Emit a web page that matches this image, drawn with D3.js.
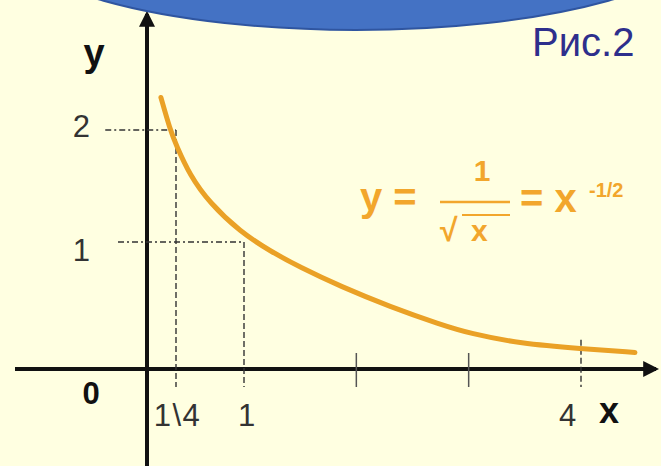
<!DOCTYPE html>
<html>
<head>
<meta charset="UTF-8">
<title>y = x^-1/2</title>
<script src="https://cdn.jsdelivr.net/npm/d3@7/dist/d3.min.js"></script>
<style>
  * { margin: 0; padding: 0; }
  body { background: #ffffe1; }
  #chart { width: 661px; height: 466px; }
  text { font-family: "Liberation Sans", Arial, sans-serif; }
</style>
</head>
<body>
<div id="chart"></div>
<script>
// ticks on the axes
var xTicks = [0.25, 1, 2, 3, 4];
var xTickLabels = ["1\\4", "1", "", "", "4"];
var xDashed = [0.25, 1, 4];
var yTicks = [1, 2];
var yTickLabels = ["1", "2"];

// curve points
var curveX = [0.12, 0.2, 0.25, 0.4, 0.62, 0.96, 1.23, 1.5, 1.86, 2.3, 2.75, 3.01, 3.46, 4.0, 4.48];
var curveY = [2.29, 2.0, 1.87, 1.6, 1.35, 1.09, 0.93, 0.8, 0.65, 0.49, 0.35, 0.28, 0.2, 0.16, 0.13];

// helper guide lines: [x, y, start of the horizontal part]
var guideX = [0.25, 1];
var guideY = [2, 1];
var guideStart = [-0.36, -0.25];
var guide4Top = 0.23;

var W = 661, H = 466;
var svg = d3.select("#chart").append("svg")
    .attr("width", W)
    .attr("height", H);

svg.append("rect").attr("width", W).attr("height", H).attr("fill", "#ffffe1");

// the picture is hand-drawn, so the units are not even
var x = d3.scaleLinear().domain([0, 0.25, 1, 4]).range([147, 176, 244, 581]);
var y = d3.scaleLinear().domain([0, 1, 2]).range([369, 242, 130]);

var ink = "#111";

// axes with arrows
svg.append("defs").append("marker")
    .attr("id", "arr")
    .attr("viewBox", "0 0 10 10")
    .attr("refX", 8).attr("refY", 5)
    .attr("markerWidth", 4).attr("markerHeight", 4)
    .attr("orient", "auto")
  .append("path")
    .attr("d", "M0,0L10,5L0,10z")
    .attr("fill", ink);

svg.append("line")
    .attr("x1", 15).attr("y1", y(0))
    .attr("x2", 656).attr("y2", y(0))
    .attr("stroke", ink).attr("stroke-width", 4)
    .attr("marker-end", "url(#arr)");

svg.append("line")
    .attr("x1", x(0)).attr("y1", H)
    .attr("x2", x(0)).attr("y2", 14)
    .attr("stroke", ink).attr("stroke-width", 4)
    .attr("marker-end", "url(#arr)");

// plain ticks
svg.selectAll(".tick2")
    .data(xTicks.filter(function(d){ return xDashed.indexOf(d) < 0; }))
    .enter().append("line")
    .attr("class", "tick2")
    .attr("x1", function(d){ return x(d); })
    .attr("x2", function(d){ return x(d); })
    .attr("y1", y(0) - 16).attr("y2", y(0) + 18)
    .attr("stroke", "#555").attr("stroke-width", 1.5);

// dashed guides
var g = svg.append("g").attr("stroke", "#333").attr("stroke-width", 1.4).attr("fill", "none");
guideX.forEach(function(gx, i){
    g.append("line")
        .attr("x1", x(guideStart[i])).attr("y1", y(guideY[i]))
        .attr("x2", x(gx)).attr("y2", y(guideY[i]))
        .attr("stroke-dasharray", "6,3,2,3");
    g.append("line")
        .attr("x1", x(gx)).attr("y1", y(guideY[i]))
        .attr("x2", x(gx)).attr("y2", y(0) + 18)
        .attr("stroke-dasharray", "6,3");
});
g.append("line")
    .attr("x1", x(4)).attr("y1", y(guide4Top))
    .attr("x2", x(4)).attr("y2", y(0) + 18)
    .attr("stroke-dasharray", "6,3");

// tick labels through d3 axes
var xAxis = d3.axisBottom(x)
    .tickValues(xTicks)
    .tickSize(0)
    .tickPadding(35)
    .tickFormat(function(d, i){ return xTickLabels[i]; });
var gx = svg.append("g").attr("transform", "translate(0," + y(0) + ")").call(xAxis);
gx.select(".domain").remove();
gx.selectAll("text")
    .attr("font-size", 31)
    .attr("font-family", "Liberation Sans, Arial, sans-serif")
    .attr("fill", "#333")
    .attr("letter-spacing", function(d){ return d === 0.25 ? 1.5 : 0; })
    .attr("dx", function(d){ return d === 4 ? -14 : (d === 1 ? 2 : 1); });

var yAxis = d3.axisLeft(y)
    .tickValues(yTicks)
    .tickSize(0)
    .tickPadding(57)
    .tickFormat(function(d, i){ return yTickLabels[i]; });
var gy = svg.append("g").attr("transform", "translate(" + x(0) + ",0)").call(yAxis);
gy.select(".domain").remove();
gy.selectAll("text")
    .attr("font-size", 31)
    .attr("font-family", "Liberation Sans, Arial, sans-serif")
    .attr("fill", "#333")
    .attr("dy", function(d){ return d === 1 ? "0.6em" : "0.2em"; });

// the curve
var pts = curveX.map(function(d, i){ return [d, curveY[i]]; });
var line = d3.line()
    .x(function(d){ return x(d[0]); })
    .y(function(d){ return y(d[1]); })
    .curve(d3.curveBasis);
svg.append("path")
    .datum(pts)
    .attr("d", line)
    .attr("fill", "none")
    .attr("stroke", "#eaa126")
    .attr("stroke-width", 5)
    .attr("stroke-linecap", "round");

// axis names
svg.append("text").text("y")
    .attr("x", 94).attr("y", 66)
    .attr("text-anchor", "middle")
    .attr("font-size", 38).attr("font-weight", "bold").attr("fill", ink);
svg.append("text").text("0")
    .attr("x", 91).attr("y", 404)
    .attr("text-anchor", "middle")
    .attr("font-size", 31).attr("font-weight", "bold").attr("fill", ink);
svg.append("text").text("x")
    .attr("x", 609).attr("y", 423)
    .attr("text-anchor", "middle")
    .attr("font-size", 36).attr("font-weight", "bold").attr("fill", ink);

// formula
var orange = "#f2a62c";
var f = svg.append("g").attr("fill", orange).attr("font-weight", "bold");
f.append("text").text("y =").attr("x", 360).attr("y", 211).attr("font-size", 40);
f.append("text").text("1").attr("x", 482).attr("y", 181).attr("text-anchor", "middle").attr("font-size", 30);
f.append("line").attr("x1", 440).attr("x2", 510).attr("y1", 202).attr("y2", 202)
    .attr("stroke", orange).attr("stroke-width", 2.5);
f.append("text").text("\u221A").attr("x", 440).attr("y", 241).attr("font-size", 32);
f.append("line").attr("x1", 462).attr("x2", 510).attr("y1", 215).attr("y2", 215)
    .attr("stroke", orange).attr("stroke-width", 2);
f.append("text").text("x").attr("x", 471).attr("y", 241).attr("font-size", 30);
f.append("text").text("= x").attr("x", 520).attr("y", 212).attr("font-size", 40);
f.append("text").text("-1/2").attr("x", 589).attr("y", 197).attr("font-size", 20);

// label at the corner
svg.append("text").text("Рис.2")
    .attr("x", 532).attr("y", 56)
    .attr("font-size", 40).attr("fill", "#2e2f8c");

// blue shape at the top, over the arrow tip
svg.append("ellipse")
    .attr("cx", 356).attr("cy", -70)
    .attr("rx", 357).attr("ry", 100)
    .attr("fill", "#4472c4")
    .attr("stroke", "#2f55a0")
    .attr("stroke-width", 2);
</script>
</body>
</html>
